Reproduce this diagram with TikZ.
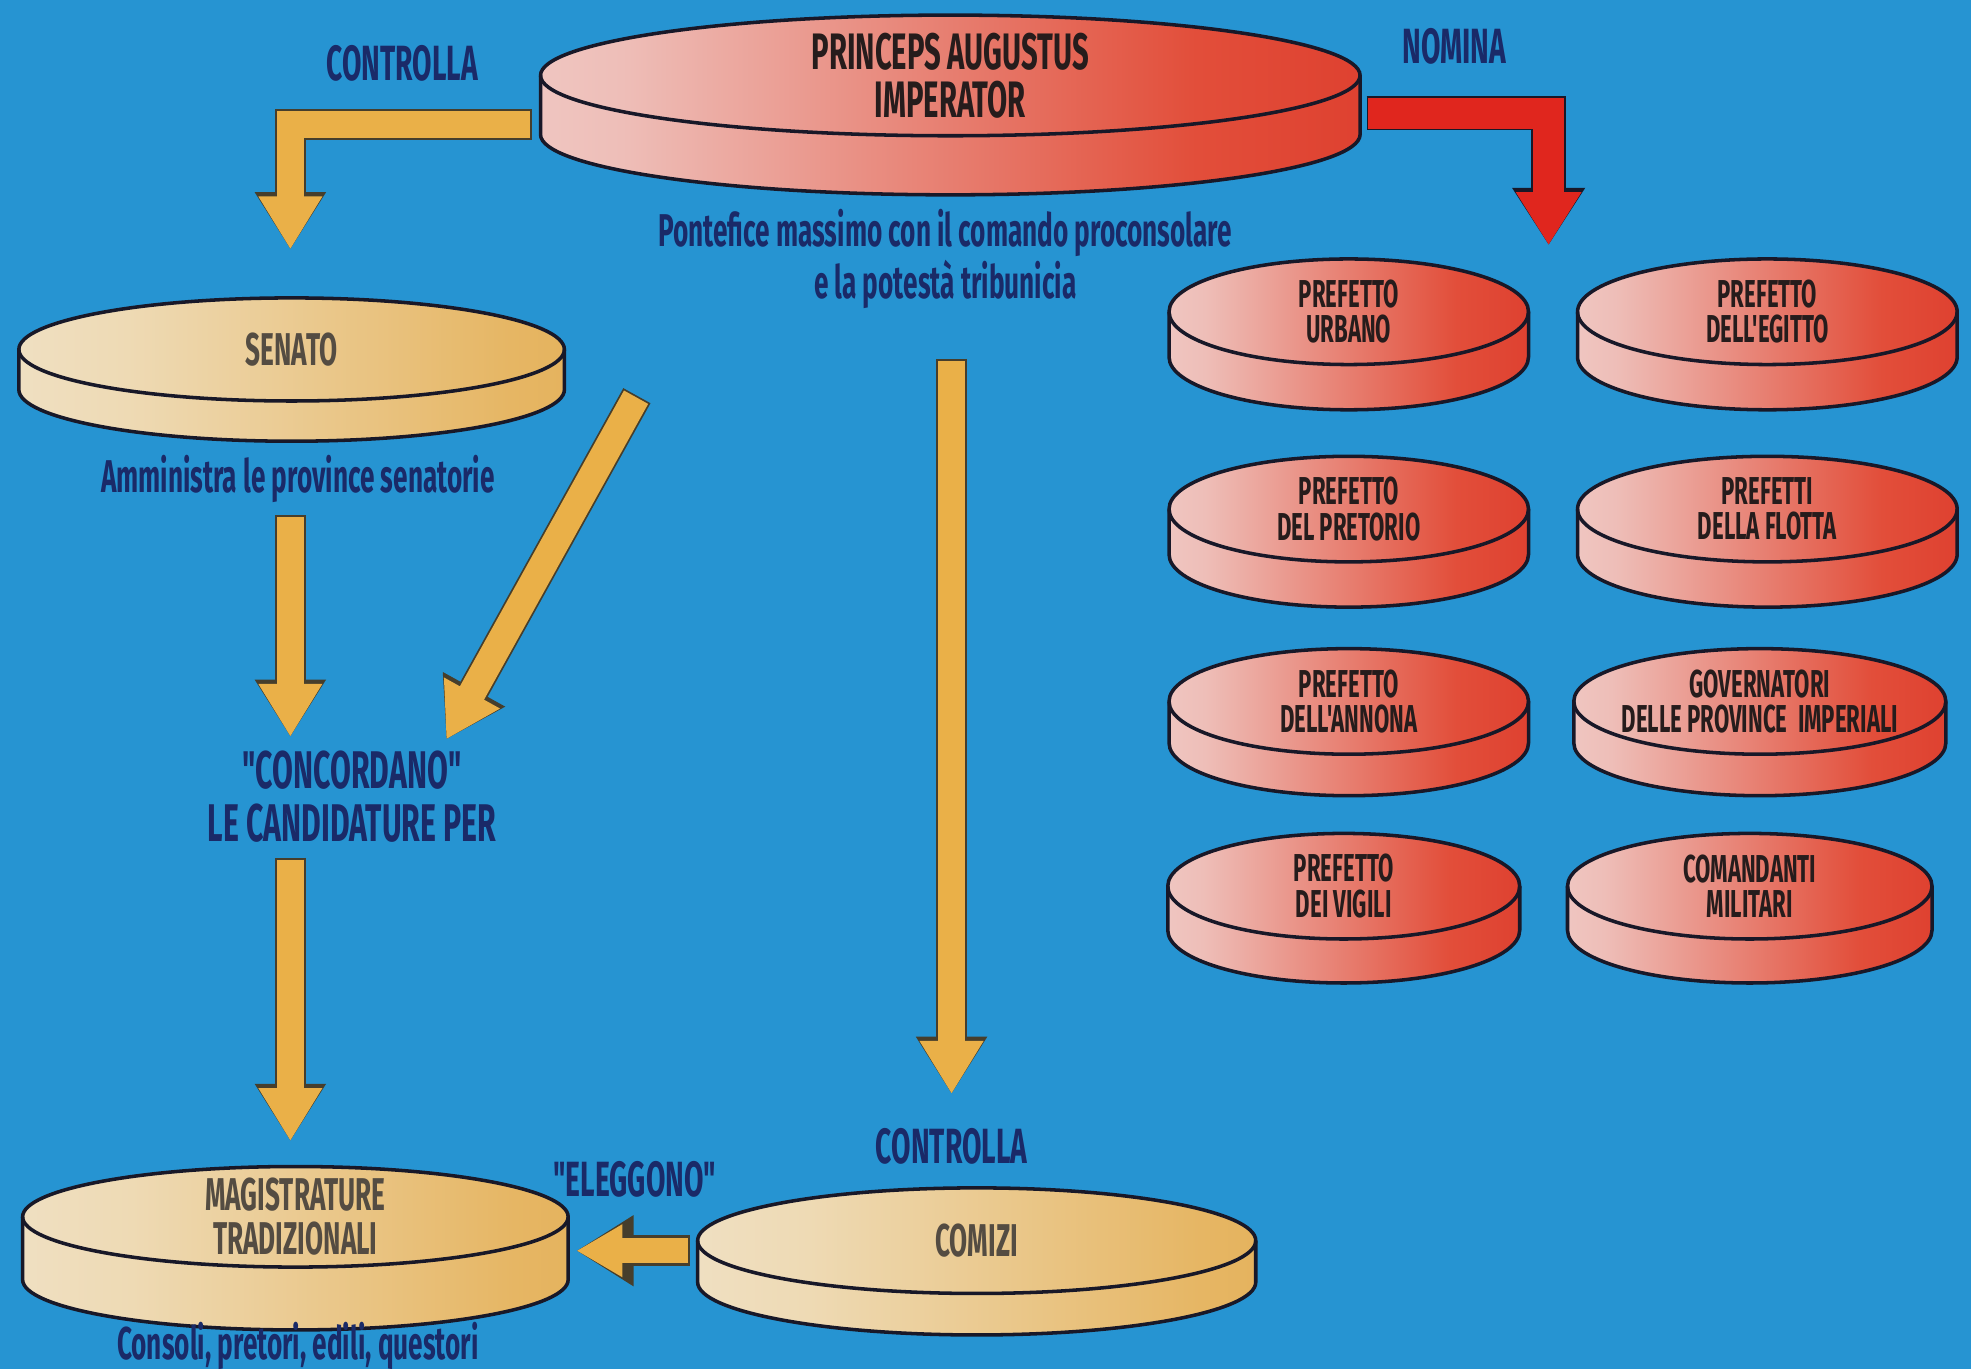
\documentclass[tikz,border=0pt]{standalone}
\usepackage{fontspec}
\newfontfamily\cond[FakeStretch=0.57]{Fira Sans}
\usepackage{xcolor}
\definecolor{bgBlue}{RGB}{38,148,210}
\definecolor{txtNavy}{RGB}{26,42,104}
\definecolor{txtRed}{RGB}{38,28,28}
\definecolor{txtGold}{RGB}{84,76,66}
\definecolor{discEdge}{RGB}{24,24,40}
\definecolor{arrGold}{RGB}{234,176,72}
\definecolor{arrEdge}{RGB}{70,62,44}
\definecolor{arrRed}{RGB}{224,38,30}
\definecolor{redA}{RGB}{246,234,234}
\definecolor{redB}{RGB}{238,190,184}
\definecolor{redC}{RGB}{226,78,58}
\definecolor{redD}{RGB}{214,34,24}
\definecolor{goldA}{RGB}{242,236,226}
\definecolor{goldB}{RGB}{238,218,180}
\definecolor{goldC}{RGB}{230,182,100}
\definecolor{goldD}{RGB}{224,164,66}
\usepackage{tikz}
\usetikzlibrary{arrows.meta, calc, shapes.geometric}

\pgfdeclarehorizontalshading{redDisc}{100bp}{color(0bp)=(redA); color(30bp)=(redB); color(65bp)=(redC); color(100bp)=(redD)}
\pgfdeclarehorizontalshading{goldDisc}{100bp}{color(0bp)=(goldA); color(35bp)=(goldB); color(70bp)=(goldC); color(100bp)=(goldD)}

\tikzset{
  discnode/.style={ellipse, inner sep=0pt, align=center},
  redtxt/.style={text=txtRed},
  goldtxt/.style={text=txtGold},
  bigtxt/.style={font=\cond\bfseries\fontsize{14.5}{13.5}\selectfont},
  midtxt/.style={font=\cond\bfseries\fontsize{13}{12.5}\selectfont},
  smalltxt/.style={font=\cond\bfseries\fontsize{11}{10}\selectfont},
  lbl/.style={text=txtNavy, inner sep=1pt, align=center, font=\cond\bfseries\fontsize{14}{15}\selectfont},
  note/.style={text=txtNavy, inner sep=1pt, align=center, font=\cond\bfseries\fontsize{13}{13.2}\selectfont},
  goldarrow/.style={arrGold, line width=7.8pt, -{Triangle[width=17pt,length=15pt]},
    preaction={draw=arrEdge, line width=8.8pt, shorten <=-0.5pt, -{Triangle[width=19pt,length=16.2pt]}}},
  redarrow/.style={arrRed, line width=8.8pt, -{Triangle[width=17.5pt,length=15pt]},
    preaction={draw=discEdge, line width=9.8pt, shorten <=-0.5pt, -{Triangle[width=19.5pt,length=16.2pt]}}},
}

% disco: nome, x, y, rx, ry, spessore, sfumatura, stile testo, testo
\newcommand{\disco}[9]{%
  \shade[shading=#7, draw=discEdge, line width=1pt]
    (#2-#4,#3) -- (#2-#4,#3+#6) arc[start angle=180, end angle=0, x radius=#4, y radius=#5]
    -- (#2+#4,#3) arc[start angle=0, end angle=-180, x radius=#4, y radius=#5] -- cycle;
  \draw[discEdge, line width=1pt] (#2-#4,#3) arc[start angle=180, end angle=0, x radius=#4, y radius=#5];
  \node[discnode, #8, minimum width={2*#4*0.0125cm}, minimum height={2*#5*0.0125cm}] (#1) at (#2,#3) {#9};
}

\begin{document}
\begin{tikzpicture}[x=0.0125cm, y=-0.0125cm]
\useasboundingbox (0,0) rectangle (1568,1089);
\fill[bgBlue] (0,0) rectangle (1568,1089);

% dischi
\disco{prin}{756}{60}{326}{48}{47}{redDisc}{redtxt, bigtxt}{PRINCEPS AUGUSTUS\\IMPERATOR}
\disco{sen}{232}{278}{217}{41}{32}{goldDisc}{goldtxt, midtxt}{SENATO}
\disco{mag}{235}{968}{217}{40}{50}{goldDisc}{goldtxt, midtxt}{MAGISTRATURE\\TRADIZIONALI}
\disco{com}{777}{987}{222}{42}{33}{goldDisc}{goldtxt, midtxt}{COMIZI}

\disco{urb}{1073}{248}{143}{42}{36}{redDisc}{redtxt, smalltxt}{PREFETTO\\URBANO}
\disco{egi}{1406}{248}{151}{42}{36}{redDisc}{redtxt, smalltxt}{PREFETTO\\DELL'EGITTO}
\disco{pret}{1073}{405}{143}{42}{36}{redDisc}{redtxt, smalltxt}{PREFETTO\\DEL PRETORIO}
\disco{flot}{1406}{405}{151}{42}{36}{redDisc}{redtxt, smalltxt}{PREFETTI\\DELLA FLOTTA}
\disco{ann}{1073}{558}{143}{42}{33}{redDisc}{redtxt, smalltxt}{PREFETTO\\DELL'ANNONA}
\disco{gov}{1400}{558}{148}{42}{33}{redDisc}{redtxt, smalltxt}{GOVERNATORI\\DELLE PROVINCE\ \ IMPERIALI}
\disco{vig}{1069}{705}{140}{42}{35}{redDisc}{redtxt, smalltxt}{PREFETTO\\DEI VIGILI}
\disco{mil}{1392}{705}{145}{42}{35}{redDisc}{redtxt, smalltxt}{COMANDANTI\\MILITARI}

% scritte
\node[lbl] (ctrlA) at (320,50) {CONTROLLA};
\node[lbl] (nomina) at (1157,37) {NOMINA};
\node[note] (pontef) at (752,206) {Pontefice massimo con il comando proconsolare\\e la potestà tribunicia};
\node[note] (amm) at (237,381) {Amministra le province senatorie};
\node[lbl, font=\cond\bfseries\fontsize{15}{15}\selectfont] (concord) at (280,634) {"CONCORDANO"\\LE CANDIDATURE PER};
\node[lbl] (elegg) at (505,938) {"ELEGGONO"};
\node[lbl] (ctrlB) at (757,912) {CONTROLLA};
\node[note] (consoli) at (237,1071) {Consoli, pretori, edili, questori};
\coordinate (diagStart) at (506,316);
\coordinate (nomTip) at (1232,195);

% frecce
\draw[goldarrow] ($(prin.west)+(-8,39)$) -| ($(sen.north)+(-1,-38)$);
\draw[redarrow] ($(prin.east)+(6,30)$) -| (nomTip);
\draw[goldarrow] ($(amm.south -| sen.south)+(-1,8)$) -- ($(concord.north -| sen.south)+(-1,-8)$);
\draw[goldarrow] (diagStart) -- ($(concord.north)+(75,-6)$);
\draw[goldarrow] ($(concord.south -| mag.north)+(-4,10)$) -- ($(mag.north)+(-4,-16)$);
\draw[goldarrow] ($(pontef.south)+(5,38)$) -- ($(ctrlB.north)+(0,-24)$);
\draw[goldarrow, line width=7pt, -{Triangle[width=14pt,length=13pt]}] ($(com.west)+(-7,8)$) -- ($(mag.east)+(6,27)$);
\end{tikzpicture}
\end{document}
